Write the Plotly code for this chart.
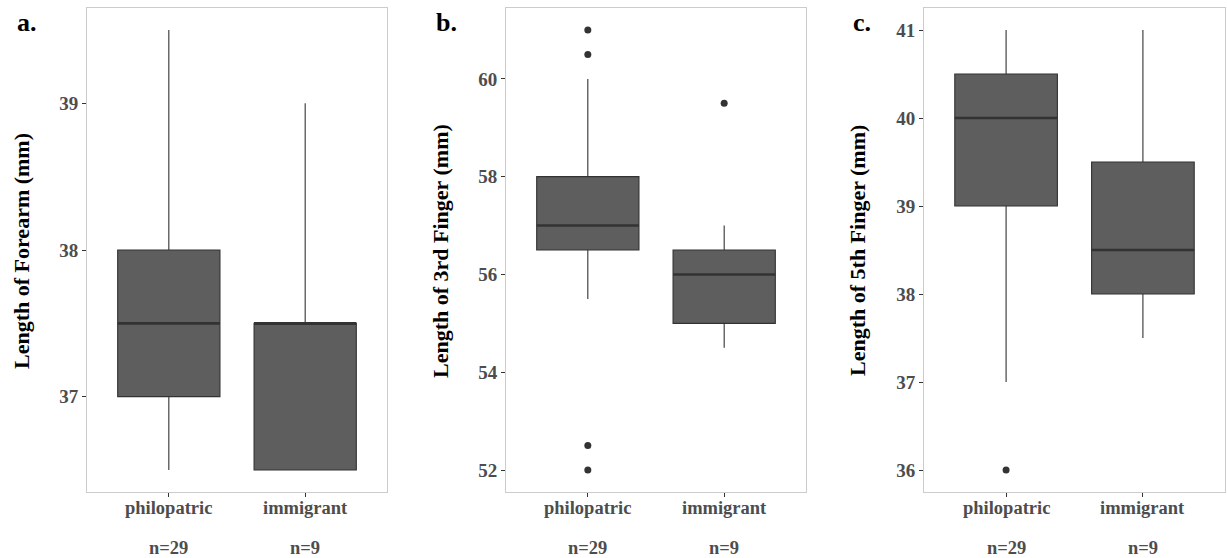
import plotly.graph_objects as go

categories = ["philopatric", "immigrant"]
n_labels = ["n=29", "n=9"]
positions = [1, 2]

# Panel a: forearm
a_q1 = [37.0, 36.5]
a_med = [37.5, 37.5]
a_q3 = [38.0, 37.5]
a_lo = [36.5, 36.5]
a_hi = [39.5, 39.0]
a_out = [[], []]

# Panel b: 3rd finger
b_q1 = [56.5, 55.0]
b_med = [57.0, 56.0]
b_q3 = [58.0, 56.5]
b_lo = [55.5, 54.5]
b_hi = [60.0, 57.0]
b_out = [[61.0, 60.5, 52.5, 52.0], [59.5]]

# Panel c: 5th finger
c_q1 = [39.0, 38.0]
c_med = [40.0, 38.5]
c_q3 = [40.5, 39.5]
c_lo = [37.0, 37.5]
c_hi = [41.0, 41.0]
c_out = [[36.0], []]

panels = [
    dict(q1=a_q1, med=a_med, q3=a_q3, lo=a_lo, hi=a_hi, out=a_out,
         title="Length of Forearm (mm)", label="a.", ticks=[37, 38, 39], rng=[36.35, 39.65]),
    dict(q1=b_q1, med=b_med, q3=b_q3, lo=b_lo, hi=b_hi, out=b_out,
         title="Length of 3rd Finger (mm)", label="b.", ticks=[52, 54, 56, 58, 60], rng=[51.55, 61.45]),
    dict(q1=c_q1, med=c_med, q3=c_q3, lo=c_lo, hi=c_hi, out=c_out,
         title="Length of 5th Finger (mm)", label="c.", ticks=[36, 37, 38, 39, 40, 41], rng=[35.75, 41.25]),
]

W, H = 1227, 558
xdomains = [(87, 387), (506, 806), (924, 1225)]
title_x = [22, 441, 858]
label_x = [27, 446, 862]
ydom = [1 - 492 / H, 1 - 8 / H]

FONT = "Liberation Serif"
FILL = "#5e5e5e"
LINE = "#333333"
TICKC = "#4d4d4d"
BW = 0.75

fig = go.Figure()
annotations = []
layout = {}
for i, p in enumerate(panels):
    xa = "x" if i == 0 else f"x{i+1}"
    ya = "y" if i == 0 else f"y{i+1}"
    for j, pos in enumerate(positions):
        fig.add_trace(go.Box(
            x=[pos], q1=[p["q1"][j]], median=[p["med"][j]], q3=[p["q3"][j]],
            lowerfence=[p["lo"][j]], upperfence=[p["hi"][j]],
            width=BW, fillcolor=FILL, line=dict(color=LINE, width=1.1),
            whiskerwidth=0, boxpoints=False, showlegend=False, hoverinfo="skip",
            xaxis=xa, yaxis=ya))
        fig.add_trace(go.Scatter(
            x=[pos - BW / 2, pos + BW / 2], y=[p["med"][j], p["med"][j]],
            mode="lines", line=dict(color=LINE, width=2.6), showlegend=False,
            hoverinfo="skip", xaxis=xa, yaxis=ya))
        if p["out"][j]:
            fig.add_trace(go.Scatter(
                x=[pos] * len(p["out"][j]), y=p["out"][j], mode="markers",
                marker=dict(color=LINE, size=7), showlegend=False,
                hoverinfo="skip", xaxis=xa, yaxis=ya))
    x0, x1 = xdomains[i]
    axkey = "xaxis" if i == 0 else f"xaxis{i+1}"
    aykey = "yaxis" if i == 0 else f"yaxis{i+1}"
    layout[axkey] = dict(
        domain=[x0 / W, x1 / W], range=[0.4, 2.6], anchor=ya,
        tickvals=positions, showticklabels=False, ticks="outside", ticklen=4,
        tickcolor=LINE, showgrid=False, zeroline=False, showline=True, mirror=True,
        linecolor="#cccccc", linewidth=1)
    layout[aykey] = dict(
        domain=ydom, range=p["rng"], anchor=xa,
        tickvals=p["ticks"], ticks="outside", ticklen=4, tickcolor=LINE,
        showgrid=False, zeroline=False, showline=True, mirror=True,
        linecolor="#cccccc", linewidth=1,
        tickfont=dict(family=FONT, size=19, color=TICKC, weight="bold"))
    annotations.append(dict(
        text=p["title"], textangle=-90, xref="paper", yref="paper",
        x=title_x[i] / W, y=(1 - 251 / H), xanchor="center", yanchor="middle",
        showarrow=False, font=dict(family=FONT, size=22, color="black", weight="bold")))
    annotations.append(dict(
        text=p["label"], xref="paper", yref="paper",
        x=label_x[i] / W, y=1 - 22 / H, xanchor="center", yanchor="middle",
        showarrow=False, font=dict(family=FONT, size=26, color="black", weight="bold")))
    for j, pos in enumerate(positions):
        annotations.append(dict(
            text=categories[j], xref=xa, yref="paper", x=pos, y=1 - 508 / H,
            xanchor="center", yanchor="middle", showarrow=False,
            font=dict(family=FONT, size=18.5, color=TICKC, weight="bold")))
        annotations.append(dict(
            text=n_labels[j], xref=xa, yref="paper", x=pos, y=1 - 548 / H,
            xanchor="center", yanchor="middle", showarrow=False,
            font=dict(family=FONT, size=18.5, color=TICKC, weight="bold")))

fig.update_layout(
    width=W, height=H, margin=dict(l=0, r=0, t=0, b=0),
    paper_bgcolor="white", plot_bgcolor="white",
    annotations=annotations, **layout)

fig.write_html("out.html")
